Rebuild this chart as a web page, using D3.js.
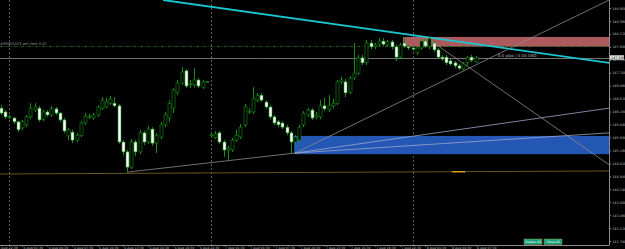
<!DOCTYPE html>
<html>
<head>
<meta charset="utf-8">
<script src="https://cdn.jsdelivr.net/npm/d3@7"></script>
<style>
  html, body { margin: 0; padding: 0; background: #000; overflow: hidden; }
  svg { display: block; font-family: "DejaVu Sans", sans-serif; }
</style>
</head>
<body>
<div id="chart"></div>
<script>
'use strict';

/**** Chart data (M30 bars) ****/

var openP  = [146.27,146.17,146.04,146.01,145.91,145.75,145.83,146.04,146.22,146.27,145.98,146.17,146.09,146.25,146.14,145.96,145.54,145.64,145.43,145.56,
              145.88,146.04,146.01,146.09,146.27,146.30,146.40,146.40,146.33,145.38,145.12,144.72,145.38,145.12,145.62,145.38,145.72,145.35,145.51,145.83,
              146.01,146.27,146.69,146.93,147.25,146.90,146.88,147.01,146.82,146.96,145.56,145.49,145.62,145.38,145.17,145.17,145.43,145.51,145.83,146.17,
              146.17,146.48,146.61,146.43,146.30,146.04,145.91,145.88,145.77,145.62,145.38,145.43,145.83,146.09,146.22,146.04,146.04,146.33,146.22,146.33,
              146.40,146.96,146.96,146.69,147.06,147.19,147.59,147.46,147.98,147.88,147.95,148.03,147.93,148.01,147.88,147.61,147.98,147.88,147.85,147.72,
              147.85,148.03,147.88,147.98,147.80,147.61,147.61,147.51,147.46,147.38,147.30,147.46,147.61,147.48];
var highP  = [146.35,146.22,146.09,146.04,145.93,145.96,146.09,146.40,146.40,146.33,146.22,146.22,146.33,146.30,146.17,146.01,145.75,145.70,145.62,145.93,
              146.14,146.12,146.14,146.35,146.56,146.54,146.59,146.56,146.38,145.43,145.17,145.46,145.43,145.70,145.67,145.80,145.77,145.62,145.91,146.17,
              146.48,146.80,147.01,147.35,147.30,147.01,147.32,147.06,147.01,146.98,145.62,145.67,145.67,145.43,145.28,145.49,145.70,145.85,146.38,146.27,
              146.82,146.67,146.67,146.48,146.35,146.09,145.96,145.93,145.83,145.67,145.56,145.83,146.19,146.27,146.27,146.17,146.48,146.54,146.61,146.51,
              147.01,147.09,147.04,147.11,147.98,147.67,147.67,148.06,148.06,147.98,148.11,148.11,148.06,148.06,147.93,147.98,148.14,147.93,147.90,147.90,
              148.09,148.09,148.14,148.03,147.85,147.67,147.67,147.56,147.51,147.43,147.48,147.64,147.67,147.64];
var lowP   = [146.09,145.98,145.98,145.85,145.64,145.70,145.77,145.98,146.17,145.91,145.93,146.04,146.04,146.09,145.91,145.62,145.43,145.35,145.38,145.51,
              145.83,145.98,145.96,146.04,146.22,146.27,146.35,146.30,145.33,145.04,144.57,144.67,145.01,145.06,145.30,145.33,145.28,145.09,145.46,145.77,
              145.91,146.14,146.61,146.88,146.80,146.80,146.82,146.80,146.77,146.93,145.51,145.46,145.33,144.99,144.91,145.12,145.38,145.46,145.77,146.12,
              146.12,146.43,146.43,146.25,145.98,145.83,145.77,145.72,145.56,145.09,145.30,145.38,145.77,146.04,145.96,145.98,145.98,146.19,146.17,146.27,
              146.35,146.90,146.56,146.64,147.01,147.14,147.40,147.40,147.82,147.82,147.90,147.90,147.88,147.82,147.51,147.56,147.85,147.80,147.77,147.67,
              147.80,147.85,147.82,147.74,147.56,147.51,147.40,147.38,147.32,147.27,147.25,147.40,147.48,147.46];
var closeP = [146.14,146.04,146.05,145.91,145.70,145.91,146.04,146.27,146.30,145.96,146.17,146.09,146.25,146.14,145.96,145.67,145.70,145.43,145.56,145.88,
              146.06,146.06,146.09,146.30,146.48,146.43,146.51,146.33,145.38,145.12,144.72,145.38,145.12,145.62,145.38,145.72,145.35,145.56,145.83,146.09,
              146.40,146.75,146.93,147.22,146.85,146.91,147.01,146.85,146.96,146.97,145.57,145.59,145.38,145.17,145.22,145.43,145.56,145.77,146.30,146.19,
              146.51,146.61,146.48,146.30,146.04,145.88,145.83,145.77,145.62,145.38,145.51,145.77,146.14,146.22,146.01,146.09,146.33,146.25,146.35,146.40,
              146.96,147.01,146.67,147.06,147.19,147.59,147.46,147.98,147.88,147.93,148.03,147.95,148.01,147.88,147.61,147.93,147.90,147.85,147.82,147.85,
              148.03,147.90,148.09,147.80,147.61,147.56,147.46,147.43,147.38,147.32,147.43,147.59,147.53,147.59];

// price scale labels
var priceTicks = [142.78,143.12,143.46,143.80,144.14,144.48,144.82,145.16,145.50,145.84,
                  146.18,146.52,146.86,147.20,147.54,147.88,148.22,148.56,148.90];

// time scale labels and the bars they sit on
var labelBars  = [-1,5,11,17,23,29,35,41,47,53,59,65,71,77,83,89,95,101,107,113];
var timeLabels = ['5 Aug 22:30','6 Aug 01:30','6 Aug 04:30','6 Aug 07:30','6 Aug 10:30','6 Aug 13:30',
                  '6 Aug 16:30','6 Aug 19:30','6 Aug 22:30','7 Aug 01:30','7 Aug 04:30','7 Aug 07:30',
                  '7 Aug 10:30','7 Aug 13:30','7 Aug 16:30','7 Aug 19:30','7 Aug 22:30','8 Aug 01:30',
                  '8 Aug 04:30','8 Aug 07:30'];

// day separators (bar index)
var dayBars = [2, 50, 98];

// objects drawn on the chart, anchored in bar index / price
var trendBars   = [[38.6, 144.8], [30.2, 70], [70, 144.8], [70, 144.8], [70, 144.8], [101, 144.8]];
var trendPrices = [[149.11, 147.46], [144.59, 145.09], [145.09, 146.27], [145.09, 145.62], [145.09, 149.11], [148.14, 144.78]];
var zoneBars    = [[95.7, 144.8], [69.8, 144.8]];
var zonePrices  = [[148.14, 147.88], [145.54, 145.06]];
var levelPrices = [147.90, 147.59];       // sell limit, bid
var levelText   = ['#39905023 sell limit 0.02', '0.0 pips | 0.00 USD'];
var stopBars    = [-0.2, 144.8];
var stopPrices  = [144.54, 144.62];

/**** Drawing ****/

var width = 625, height = 249;
var plotRight = 609, plotBottom = 245;
var candleGreen = '#1a8c1a';

var svg = d3.select('#chart').append('svg')
    .attr('width', width)
    .attr('height', height)
    .style('background', '#000');

var x = d3.scaleLinear().domain([0, 145]).range([1, 610]);
var y = d3.scaleLinear().domain([142.78, 148.90]).range([241, 8]);

svg.append('clipPath').attr('id', 'plotClip')
  .append('rect').attr('x', 0).attr('y', 0).attr('width', plotRight).attr('height', plotBottom);

var plot = svg.append('g').attr('clip-path', 'url(#plotClip)');

//Day separators
plot.selectAll('.sep').data(dayBars).enter()
    .append('line')
    .attr('class', 'sep')
    .attr('x1', function(d) { return Math.round(x(d)) + 0.5; })
    .attr('x2', function(d) { return Math.round(x(d)) + 0.5; })
    .attr('y1', 0).attr('y2', plotBottom)
    .attr('stroke', '#5a5a5a').attr('stroke-dasharray', '2,2');

//Zones
var zoneColors = ['#ad5a5e', '#2457b4'];
plot.selectAll('.zone').data(zoneBars).enter()
    .append('rect')
    .attr('class', 'zone')
    .attr('x', function(d) { return x(d[0]); })
    .attr('width', function(d) { return x(d[1]) - x(d[0]); })
    .attr('y', function(d, i) { return y(zonePrices[i][0]); })
    .attr('height', function(d, i) { return y(zonePrices[i][1]) - y(zonePrices[i][0]); })
    .attr('fill', function(d, i) { return zoneColors[i]; });

//Stop level (orange)
plot.append('line')
    .attr('x1', x(stopBars[0])).attr('x2', x(stopBars[1]))
    .attr('y1', y(stopPrices[0])).attr('y2', y(stopPrices[1]))
    .attr('stroke', '#6e5420').attr('stroke-width', 1);
plot.append('line')
    .attr('x1', x(107.4)).attr('x2', x(110.5))
    .attr('y1', y(144.6)).attr('y2', y(144.6))
    .attr('stroke', '#e0a020').attr('stroke-width', 1.4);

//Sell limit line (dash-dot) and bid line
plot.append('line')
    .attr('x1', 0).attr('x2', plotRight)
    .attr('y1', Math.round(y(levelPrices[0])) + 0.5).attr('y2', Math.round(y(levelPrices[0])) + 0.5)
    .attr('stroke', '#1a5c1a').attr('stroke-dasharray', '3,1.5,1,1.5');
plot.append('line')
    .attr('x1', 0).attr('x2', plotRight)
    .attr('y1', Math.round(y(levelPrices[1])) + 0.5).attr('y2', Math.round(y(levelPrices[1])) + 0.5)
    .attr('stroke', '#707070');

//Trend lines
var trendColors = ['#18c8d0', '#8c8c8c', '#9aa6c8', '#9aa6c8', '#8c8c8c', '#8c8c8c'];
var trendWidths = [1.8, 0.8, 0.8, 0.8, 0.8, 0.8];
plot.selectAll('.trend').data(trendBars).enter()
    .append('line')
    .attr('class', 'trend')
    .attr('x1', function(d) { return x(d[0]); })
    .attr('x2', function(d) { return x(d[1]); })
    .attr('y1', function(d, i) { return y(trendPrices[i][0]); })
    .attr('y2', function(d, i) { return y(trendPrices[i][1]); })
    .attr('stroke', function(d, i) { return trendColors[i]; })
    .attr('stroke-width', function(d, i) { return trendWidths[i]; });

//Candles
var candles = plot.selectAll('.candle').data(openP).enter()
    .append('g').attr('class', 'candle');
candles.append('line')
    .attr('x1', function(d, i) { return Math.round(x(i)) + 0.5; })
    .attr('x2', function(d, i) { return Math.round(x(i)) + 0.5; })
    .attr('y1', function(d, i) { return y(highP[i]); })
    .attr('y2', function(d, i) { return y(lowP[i]); })
    .attr('stroke', candleGreen);
candles.append('rect')
    .attr('x', function(d, i) { return Math.round(x(i)) - 1; })
    .attr('width', 3)
    .attr('y', function(d, i) { return y(Math.max(d, closeP[i])); })
    .attr('height', function(d, i) { return Math.max(1, Math.abs(y(d) - y(closeP[i]))); })
    .attr('fill', function(d, i) { return closeP[i] < d ? '#ffffff' : '#000'; })
    .attr('stroke', candleGreen).attr('stroke-width', 0.6);

//Chart texts
plot.append('text')
    .attr('x', 0).attr('y', y(levelPrices[0]) - 1.5)
    .attr('fill', '#9a9a9a').attr('font-size', 3.6)
    .text(levelText[0]);
plot.append('text')
    .attr('x', 498).attr('y', y(levelPrices[1]) - 0.5)
    .attr('fill', '#bdbdbd').attr('font-size', 4)
    .text(levelText[1]);

//Price axis
var yAxis = svg.append('g')
    .attr('transform', 'translate(' + (plotRight + 0.5) + ',0)')
    .call(d3.axisRight(y).tickValues(priceTicks).tickSize(1.5).tickPadding(1.2)
        .tickFormat(d3.format('.3f')));
yAxis.select('.domain').attr('stroke', '#8a8a8a').attr('d', 'M0,0V' + plotBottom);
yAxis.selectAll('.tick line').attr('stroke', '#8a8a8a');
yAxis.selectAll('.tick text').attr('fill', '#b8b8b8').attr('font-size', 3.4).attr('font-family', 'DejaVu Sans');

//Current price box
var bid = closeP[closeP.length - 1];
svg.append('rect')
    .attr('x', plotRight + 1).attr('y', y(bid) - 2.6)
    .attr('width', 14).attr('height', 4.4)
    .attr('fill', '#e8e8e8');
svg.append('text')
    .attr('x', plotRight + 2).attr('y', y(bid) + 1)
    .attr('fill', '#000').attr('font-size', 3.4)
    .text(d3.format('.3f')(bid));

//Time axis
var xAxis = svg.append('g')
    .attr('transform', 'translate(0,' + (plotBottom + 0.5) + ')')
    .call(d3.axisBottom(x).tickValues(labelBars).tickSize(1.2).tickPadding(0.3)
        .tickFormat(function(d, i) { return timeLabels[i]; }));
xAxis.select('.domain').attr('stroke', '#8a8a8a').attr('d', 'M0,0H' + (plotRight + 0.5));
xAxis.selectAll('.tick line').attr('stroke', '#8a8a8a');
xAxis.selectAll('.tick text').attr('fill', '#b8b8b8').attr('font-size', 3.2)
    .attr('font-family', 'DejaVu Sans').attr('text-anchor', 'start').attr('dx', 1);

//Buttons
var buttons = ['Delete All', 'Close All'];
var btn = svg.selectAll('.btn').data(buttons).enter()
    .append('g').attr('class', 'btn')
    .attr('transform', function(d, i) { return 'translate(' + (524 + i * 20) + ',239)'; });
btn.append('rect')
    .attr('width', 18).attr('height', 5.5)
    .attr('fill', '#13a07c').attr('stroke', '#c8b040').attr('stroke-width', 0.4);
btn.append('text')
    .attr('x', 9).attr('y', 4).attr('text-anchor', 'middle')
    .attr('fill', '#fff').attr('font-size', 3.2)
    .text(function(d) { return d; });
</script>
</body>
</html>
